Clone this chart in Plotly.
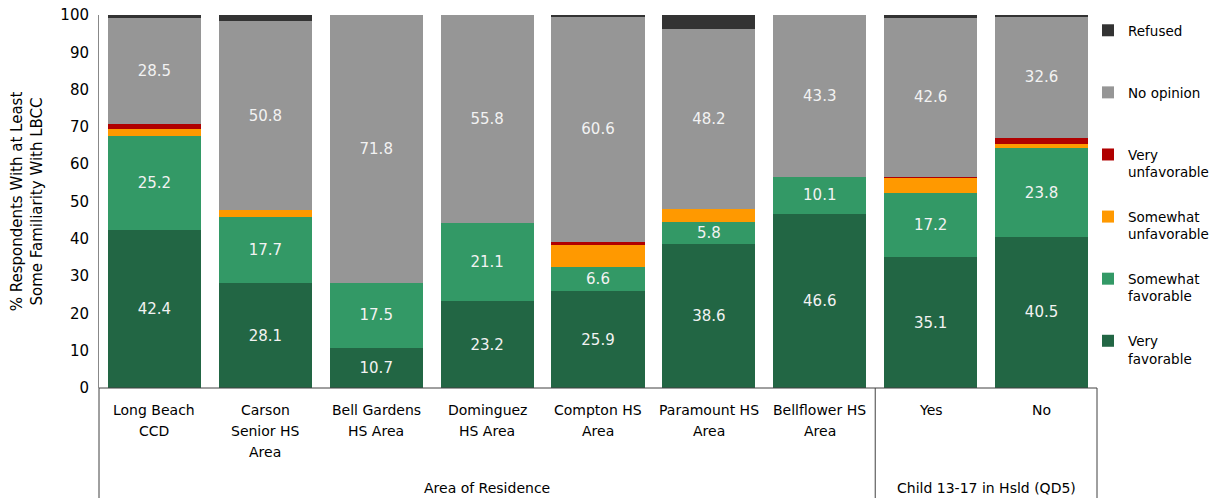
import plotly.graph_objects as go

categories = ["Long Beach CCD", "Carson Senior HS Area", "Bell Gardens HS Area", "Dominguez HS Area",
              "Compton HS Area", "Paramount HS Area", "Bellflower HS Area", "Yes", "No"]
cat_labels = ["Long Beach<br>CCD", "Carson<br>Senior HS<br>Area", "Bell Gardens<br>HS Area",
              "Dominguez<br>HS Area", "Compton HS<br>Area", "Paramount HS<br>Area",
              "Bellflower HS<br>Area", "Yes", "No"]
groups = ["Area of Residence", "Child 13-17 in Hsld (QD5)"]

very_fav = [42.4, 28.1, 10.7, 23.2, 25.9, 38.6, 46.6, 35.1, 40.5]
some_fav = [25.2, 17.7, 17.5, 21.1, 6.6, 5.8, 10.1, 17.2, 23.8]
some_unfav = [1.8, 1.8, 0, 0, 5.8, 3.6, 0, 4.1, 1.2]
very_unfav = [1.4, 0, 0, 0, 0.8, 0, 0, 0.3, 1.6]
no_opinion = [28.5, 50.8, 71.8, 55.8, 60.6, 48.2, 43.3, 42.6, 32.6]
refused = [0.7, 1.6, 0, 0, 0.3, 3.8, 0, 0.7, 0.5]

series = [
    ("Very<br>favorable", very_fav, "#226644", True),
    ("Somewhat<br>favorable", some_fav, "#339966", True),
    ("Somewhat<br>unfavorable", some_unfav, "#FF9900", False),
    ("Very<br>unfavorable", very_unfav, "#B00000", False),
    ("No opinion<br> ", no_opinion, "#969696", True),
    ("Refused<br> ", refused, "#333333", False),
]

FONT = "DejaVu Sans"
W, H = 1211, 490           # page body has an 8px margin
L, R, T, B = 91, 122, 7, 110
PH = H - T - B

fig = go.Figure()
for i, (name, vals, color, lab) in enumerate(series):
    fig.add_trace(go.Bar(
        x=categories, y=vals, name=name, legendgroup=name, legendrank=100 - i,
        marker=dict(color=color, line=dict(width=0)),
        text=[f"{v:.1f}" for v in vals] if lab else None,
        textposition="inside" if lab else "none",
        insidetextanchor="middle",
        textfont=dict(color="#F2F2F2", size=15, family=FONT),
        hoverinfo="x+y+name",
    ))

def py(screen_y):
    fy = screen_y - 8
    return -(fy - (H - B)) / PH

annotations = []
for c, lbl in zip(categories, cat_labels):
    for k, line in enumerate(lbl.split("<br>")):
        annotations.append(dict(x=c, xref="x", y=py(410 + 21 * k), yref="paper", text=line,
                                showarrow=False, yanchor="middle", xanchor="center",
                                font=dict(size=14, family=FONT, color="#000")))
annotations.append(dict(x=3, xref="x", y=py(488), yref="paper", text=groups[0], showarrow=False,
                        yanchor="middle", font=dict(size=14, family=FONT, color="#000")))
annotations.append(dict(x=7.5, xref="x", y=py(488), yref="paper", text=groups[1], showarrow=False,
                        yanchor="middle", font=dict(size=14, family=FONT, color="#000")))

lc = "#404040"
ybot = py(498)
shapes = [
    dict(type="line", xref="paper", yref="paper", x0=0, x1=0, y0=0, y1=ybot, line=dict(color=lc, width=1)),
    dict(type="line", xref="x", yref="paper", x0=6.5, x1=6.5, y0=0, y1=ybot, line=dict(color=lc, width=1)),
    dict(type="line", xref="paper", yref="paper", x0=1, x1=1, y0=0, y1=ybot, line=dict(color=lc, width=1)),
    dict(type="line", xref="paper", yref="paper", x0=0, x1=1, y0=0, y1=0, line=dict(color=lc, width=1)),
]

PW = W - L - R
leg_left = 1080
fig.update_layout(
    barmode="stack", bargap=0.16,
    width=W, height=H,
    margin=dict(l=L, r=R, t=T, b=B, autoexpand=False),
    plot_bgcolor="white", paper_bgcolor="white",
    font=dict(family=FONT, size=14, color="#000"),
    xaxis=dict(showticklabels=False, showline=False, showgrid=False, ticks="",
               range=[-0.5, 8.5]),
    yaxis=dict(range=[0, 100], dtick=10, showgrid=False, zeroline=False, showline=True,
               linecolor="#888888", linewidth=1, ticks="", ticklabelstandoff=6,
               ticklabeloverflow="allow",
               tickfont=dict(size=15, family=FONT),
               title=dict(text="% Respondents With at Least<br>Some Familiarity With LBCC",
                          font=dict(size=15, family=FONT), standoff=14)),
    legend=dict(x=(leg_left - L) / PW, xanchor="left", y=1.0, yanchor="top", traceorder="grouped",
                tracegroupgap=24, valign="top", itemwidth=30, font=dict(size=13.5, family=FONT),
                bgcolor="rgba(0,0,0,0)"),
    uniformtext=dict(minsize=15, mode="show"),
    annotations=annotations, shapes=shapes,
)

fig.write_html("out.html")
